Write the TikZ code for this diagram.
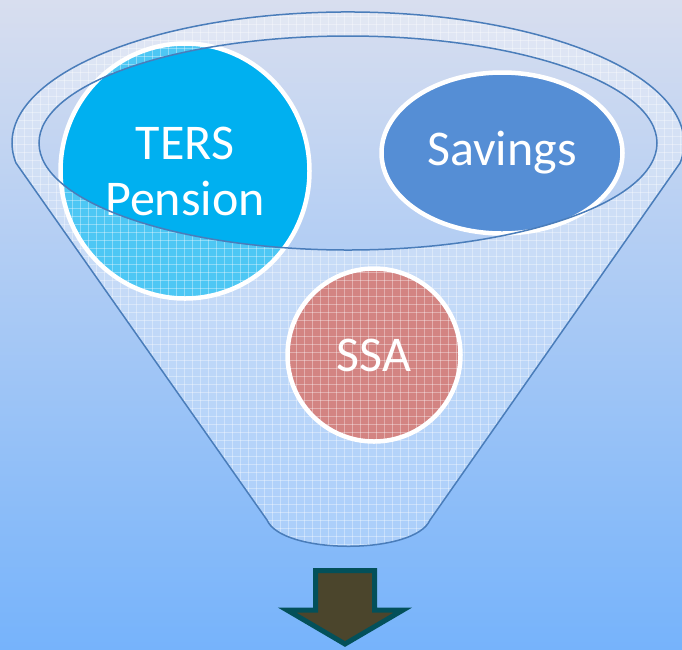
\documentclass[tikz,border=0pt]{standalone}
\usepackage{fontspec}
\setmainfont{Carlito}
\usetikzlibrary{shapes.geometric}
\definecolor{bgtop}{HTML}{D8DEEF}
\definecolor{bgmid}{HTML}{A8C9F2}
\definecolor{bgbot}{HTML}{76B3FB}
\definecolor{rim}{HTML}{4A7DBA}
\definecolor{ters}{HTML}{00B0F0}
\definecolor{sav}{HTML}{558ED5}
\definecolor{ssa}{HTML}{C0504D}
\definecolor{arrowfill}{HTML}{4B452C}
\definecolor{arrowline}{HTML}{03505A}
\begin{document}
\begin{tikzpicture}[x=1pt,y=-1pt,
  bubble/.style={ellipse, draw=white, line width=4.5pt, inner sep=0pt, text=white,
    font=\fontsize{50}{56}\selectfont, align=center},
  funnelline/.style={draw=rim, line width=1.5pt},
  meshline/.style={white, opacity=0.35, line width=0.6pt}]
\def\funnelpath{(16,163) arc[start angle=171.2, end angle=368.8, x radius=336, y radius=131] -- (430,520) .. controls (415,555) and (282,555) .. (267,520) -- cycle}
\def\mouthpath{(348,143) ellipse [x radius=309, y radius=107]}
\useasboundingbox (0,0) rectangle (682,649);
\shade[top color=bgtop, middle color=bgmid, bottom color=bgbot] (0,0) rectangle (682,649);
% items
\node[bubble, fill=ters, minimum width=249pt, minimum height=255pt] (ters) at (185,171) {TERS\\Pension};
\node[bubble, fill=sav, minimum width=241pt, minimum height=161pt] (sav) at (502,153) {Savings};
\node[bubble, fill=ssa, minimum size=173pt] (ssa) at (374,355) {SSA};
% funnel body (translucent mesh)
\fill[white, opacity=0.3, even odd rule] \funnelpath \mouthpath;
\begin{scope}[even odd rule]
  \clip \funnelpath \mouthpath;
  \foreach \i in {0,8,...,688} \draw[meshline] (\i,0) -- (\i,560);
  \foreach \j in {0,8,...,560} \draw[meshline] (0,\j) -- (682,\j);
\end{scope}
\draw[funnelline] \funnelpath;
\draw[funnelline] \mouthpath;
% output arrow
\draw[fill=arrowfill, draw=arrowline, line width=5pt]
  (315.5,570.5) -- (374.5,570.5) -- (374.5,610) -- (403,610) -- (345,644)
  -- (287,610) -- (315.5,610) -- cycle;
\end{tikzpicture}
\end{document}
